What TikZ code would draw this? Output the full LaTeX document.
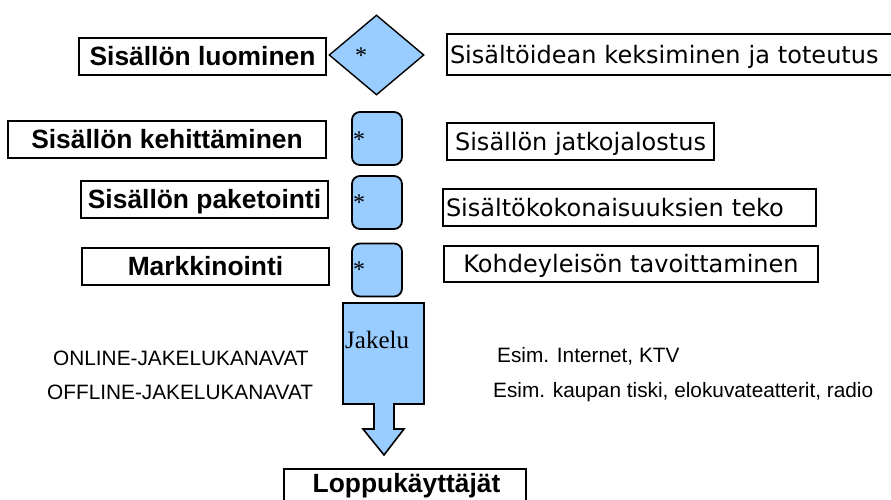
\documentclass[tikz,border=0pt]{standalone}
\usepackage{fontspec}
\setmainfont{Liberation Sans}
\newfontfamily\vfont{DejaVu Sans}
\newfontfamily\serfont{Liberation Serif}
\usetikzlibrary{shapes.geometric}
\definecolor{lblue}{HTML}{99CCFF}
\begin{document}
\begin{tikzpicture}[x=1pt,y=-1pt,
  lbox/.style={draw, line width=1.6pt, inner sep=0pt, font=\bfseries\fontsize{26.4}{30}\selectfont,
    text height=18.9pt, text depth=0pt, minimum height=37pt},
  rbox/.style={draw, line width=1.6pt, inner sep=0pt, inner xsep=3pt, font=\vfont\fontsize{24}{28}\selectfont,
    text height=17.5pt, text depth=0pt},
  sq/.style={draw, line width=1.8pt, fill=lblue, rounded corners=8pt, minimum width=50pt,
    minimum height=53pt, inner sep=0pt},
  star/.style={font=\serfont\fontsize{24}{24}\selectfont, inner sep=0pt},
  plaintxt/.style={font=\fontsize{20.8}{24}\selectfont, inner sep=0pt, anchor=base west}]

\useasboundingbox (0,0) rectangle (891,500);

% left title boxes
\node[lbox, minimum width=247pt] (l1) at (202.5,56.5) {Sisällön luominen};
\node[lbox, minimum width=318pt] (l2) at (167,139.5) {Sisällön kehittäminen};
\node[lbox, minimum width=247pt] (l3) at (204.5,199.5) {Sisällön paketointi};
\node[lbox, minimum width=247pt] (l4) at (205.5,266.5) {Markkinointi};

% right description boxes
\node[rbox, minimum width=453pt, minimum height=41pt, text width=447pt, align=left] (r1) at (673.5,54.5) {Sisältöidean keksiminen ja toteutus};
\node[rbox, minimum width=267pt, minimum height=37pt] (r2) at (580.5,141.5) {Sisällön jatkojalostus};
\node[rbox, minimum width=373pt, minimum height=37pt, text width=367pt, align=left] (r3) at (629.5,207.5) {Sisältökokonaisuuksien teko};
\node[rbox, minimum width=374pt, minimum height=36pt] (r4) at (631,264) {Kohdeyleisön tavoittaminen};

% middle blue shapes
\node[diamond, draw, fill=lblue, line width=1.4pt, minimum width=95pt, minimum height=80pt, inner sep=0pt] (d) at (376.5,55) {};
\node[sq] (s1) at (377,138.5) {};
\node[sq] (s2) at (377,202.5) {};
\node[sq] (s3) at (377,270) {};
\node[star] (a0) at (361,56) {*};
\node[star] (a1) at (359,140) {*};
\node[star] (a2) at (359,203) {*};
\node[star] (a3) at (359,270) {*};

% Jakelu arrow
\draw[fill=lblue, line width=1.6pt, line join=miter]
  (343,303) -- (424,303) -- (424,404) -- (394,404) -- (394,429) -- (404,429) -- (384,455)
  -- (363,429) -- (374,429) -- (374,404) -- (343,404) -- cycle;
\node[font=\serfont\fontsize{25}{28}\selectfont, anchor=base west, inner sep=0pt] (jak) at (345,348) {Jakelu};

% channel texts
\node[plaintxt] (on) at (53,365.5) {ONLINE-JAKELUKANAVAT};
\node[plaintxt] (off) at (47,399.5) {OFFLINE-JAKELUKANAVAT};
\node[plaintxt] (e1) at (497,362) {Esim. Internet, KTV};
\node[plaintxt] (e2) at (493,397) {Esim. kaupan tiski, elokuvateatterit, radio};

% end users
\node[draw, line width=1.6pt, minimum width=242pt, minimum height=60pt, inner sep=0pt, anchor=north] (end) at (405,468) {};
\node[font=\bfseries\fontsize{26.4}{30}\selectfont, inner sep=0pt, text height=18.9pt, text depth=0pt] (endt) at (406.5,483) {Loppukäyttäjät};
\end{tikzpicture}
\end{document}
